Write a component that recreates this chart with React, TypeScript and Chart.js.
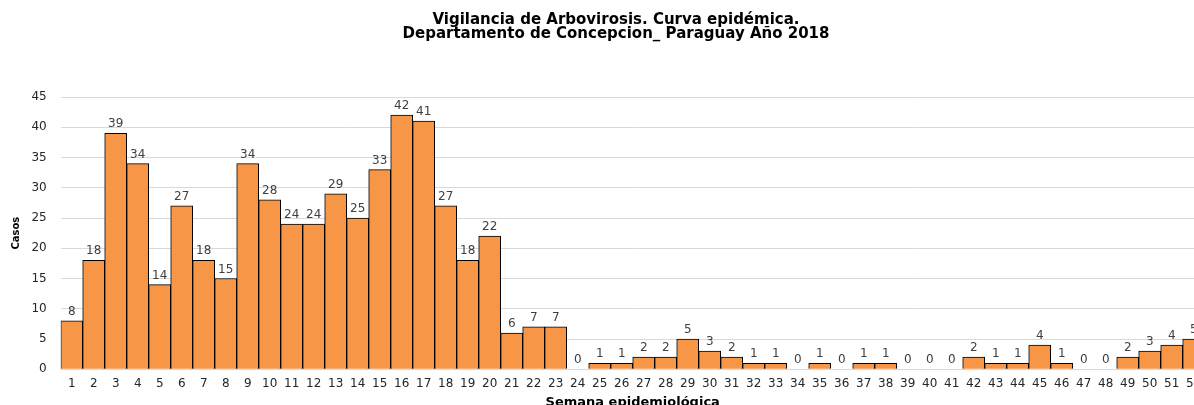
import React, { useEffect, useRef } from "react";
import { Chart, registerables } from "chart.js";

Chart.register(...registerables);

const TITLE_LINES = [
  "Vigilancia de Arbovirosis. Curva epidémica.",
  "Departamento de Concepcion_ Paraguay Año 2018",
];
const X_TITLE = "Semana epidemiológica";
const Y_TITLE = "Casos";

const WEEKS: string[] = [
  "1", "2", "3", "4", "5", "6", "7", "8", "9", "10",
  "11", "12", "13", "14", "15", "16", "17", "18", "19", "20",
  "21", "22", "23", "24", "25", "26", "27", "28", "29", "30",
  "31", "32", "33", "34", "35", "36", "37", "38", "39", "40",
  "41", "42", "43", "44", "45", "46", "47", "48", "49", "50",
  "51", "52",
];

const CASES: number[] = [
  8, 18, 39, 34, 14, 27, 18, 15, 34, 28,
  24, 24, 29, 25, 33, 42, 41, 27, 18, 22,
  6, 7, 7, 0, 1, 1, 2, 2, 5, 3,
  2, 1, 1, 0, 1, 0, 1, 1, 0, 0,
  0, 2, 1, 1, 4, 1, 0, 0, 2, 3,
  4, 5,
];

const Y_MAX = 45;
const Y_STEP = 5;

const FONT = "'DejaVu Sans', 'Open Sans', sans-serif";
const CANVAS_W = 1216;
const CANVAS_H = 420;

const valueLabels = {
  id: "valueLabels",
  afterDatasetsDraw(chart: any) {
    const ctx = chart.ctx;
    const meta = chart.getDatasetMeta(0);
    const data = chart.data.datasets[0].data as number[];
    ctx.save();
    ctx.font = `12px ${FONT}`;
    ctx.fillStyle = "#404040";
    ctx.textAlign = "center";
    ctx.textBaseline = "alphabetic";
    meta.data.forEach((el: any, i: number) => {
      ctx.fillText(String(data[i]), el.x, el.y - 6);
    });
    ctx.restore();
  },
};

export default function App() {
  const ref = useRef<HTMLCanvasElement | null>(null);

  useEffect(() => {
    const prev = document.documentElement.style.overflow;
    document.documentElement.style.overflow = "hidden";
    if (!ref.current) return;
    const chart = new Chart(ref.current, {
      type: "bar",
      data: {
        labels: WEEKS,
        datasets: [
          {
            label: Y_TITLE,
            data: CASES,
            backgroundColor: "#F79646",
            borderColor: "#000000",
            borderWidth: 1,
            barPercentage: 1,
            categoryPercentage: 1,
          },
        ],
      },
      options: {
        responsive: false,
        animation: false,
        layout: { padding: 0 },
        plugins: {
          legend: { display: false },
          tooltip: { enabled: false },
          title: {
            display: true,
            text: TITLE_LINES,
            color: "#000000",
            font: { family: FONT, size: 15, weight: "bold", lineHeight: 0.95 },
            padding: { top: 5, bottom: 55.5 },
          },
        },
        scales: {
          x: {
            grid: { display: false, drawTicks: false },
            border: { display: false },
            ticks: {
              color: "#262626",
              font: { family: FONT, size: 12 },
              padding: 7,
              maxRotation: 0,
              autoSkip: false,
            },
            title: {
              display: true,
              text: X_TITLE,
              color: "#000000",
              font: { family: FONT, size: 13, weight: "bold" },
              padding: { top: 0, bottom: 18 },
            },
            afterFit(scale: any) {
              scale.height = CANVAS_H - 361.3;
              scale.paddingLeft = 0;
              scale.paddingRight = 19.3;
            },
          },
          y: {
            min: 0,
            max: Y_MAX,
            grid: { color: "#d9d9d9", lineWidth: 1, drawTicks: false },
            border: { display: false },
            ticks: {
              stepSize: Y_STEP,
              color: "#262626",
              font: { family: FONT, size: 12 },
              padding: 14,
            },
            title: {
              display: true,
              text: Y_TITLE,
              color: "#000000",
              font: { family: FONT, size: 10, weight: "bold" },
              padding: { top: 2, bottom: 0 },
            },
            afterFit(scale: any) {
              scale.width = 52.7;
            },
          },
        },
      },
      plugins: [valueLabels],
    });
    return () => {
      chart.destroy();
      document.documentElement.style.overflow = prev;
    };
  }, []);

  return (
    <div style={{ position: "fixed", left: 8, top: 8, width: CANVAS_W, height: CANVAS_H }}>
      <canvas ref={ref} width={CANVAS_W} height={CANVAS_H} />
    </div>
  );
}
